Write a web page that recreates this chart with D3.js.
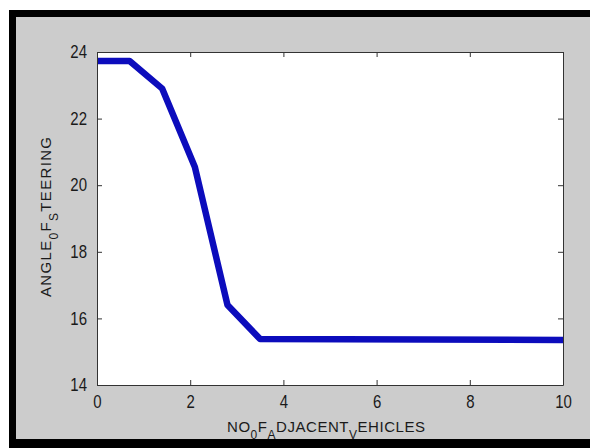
<!DOCTYPE html>
<html>
<head>
<meta charset="utf-8">
<script src="https://cdn.jsdelivr.net/npm/d3@7"></script>
<style>
    html, body { margin: 0; overflow: hidden; background: #fff; }
    svg { display: block; }
    text { font-family: "Liberation Sans", Arial, sans-serif; fill: #1a1a1a; }
    .tall { transform-box: fill-box; transform-origin: center; transform: scaleY(1.18); }
</style>
</head>
<body>
<svg id="chart" width="590" height="448"></svg>
<script>
// values
const vehicles = [0, 0.7, 1.4, 2.1, 2.8, 3.5, 10]
const steering = [23.73, 23.73, 22.9, 20.55, 16.4, 15.38, 15.35]
const xTicks = [0, 2, 4, 6, 8, 10]
const yTicks = [14, 16, 18, 20, 22, 24]

var svg = d3.select("#chart")

// figure frame: gray panel with black border left / top / bottom, open on the right
svg.append("rect").attr("x", 9).attr("y", 10).attr("width", 620).attr("height", 438).attr("fill", "#000")
svg.append("rect").attr("x", 16).attr("y", 17).attr("width", 620).attr("height", 422).attr("fill", "#cccccc")

let x = d3.scaleLinear().domain([0, 10]).range([97, 563])
let y = d3.scaleLinear().domain([14, 24]).range([385, 52])

svg.append("rect")
    .attr("x", x(0)).attr("y", y(24))
    .attr("width", x(10) - x(0)).attr("height", y(14) - y(24))
    .attr("fill", "#fff")

let line = d3.line()
    .x(function(d, i) { return x(vehicles[i]) })
    .y(function(d) { return y(d) })

svg.append("path")
    .datum(steering)
    .attr("d", line)
    .attr("fill", "none")
    .attr("stroke", "#0c0cbc")
    .attr("stroke-width", 6.5)
    .attr("stroke-linejoin", "round")

// axes: ticks pointing inward on all four sides (matlab box)
let tickStyle = function(g) {
    g.select(".domain").attr("stroke", "#333")
    g.selectAll(".tick line").attr("stroke", "#333")
}

svg.append("g")
    .attr("transform", "translate(0," + y(14) + ")")
    .call(d3.axisBottom(x).tickValues(xTicks).tickSize(-5).tickSizeOuter(0).tickPadding(11))
    .call(tickStyle)
    .call(g => g.selectAll("text").attr("class", "tall").attr("font-size", 15).attr("fill", "#1a1a1a"))

svg.append("g")
    .attr("transform", "translate(0," + y(24) + ")")
    .call(d3.axisTop(x).tickValues(xTicks).tickSize(-5).tickSizeOuter(0).tickFormat(""))
    .call(tickStyle)

svg.append("g")
    .attr("transform", "translate(" + x(0) + ",0)")
    .call(d3.axisLeft(y).tickValues(yTicks).tickSize(-5).tickSizeOuter(0).tickPadding(10))
    .call(tickStyle)
    .call(g => g.selectAll("text").attr("class", "tall").attr("font-size", 15).attr("fill", "#1a1a1a"))

svg.append("g")
    .attr("transform", "translate(" + x(10) + ",0)")
    .call(d3.axisRight(y).tickValues(yTicks).tickSize(-5).tickSizeOuter(0).tickFormat(""))
    .call(tickStyle)

// labels with tex-style subscripts
function texLabel(sel, parts) {
    parts.forEach(function(p) {
        if (p.sub) {
            sel.append("tspan").attr("font-size", 12).attr("dy", 7).text(p.t)
        } else {
            sel.append("tspan").attr("dy", p.back ? -7 : 0).text(p.t)
        }
    })
}

let xl = svg.append("text")
    .attr("x", 326).attr("y", 432)
    .attr("text-anchor", "middle")
    .attr("font-size", 15)
    .attr("textLength", 198)
    .attr("lengthAdjust", "spacing")
texLabel(xl, [
    { t: "NO" }, { t: "0", sub: true }, { t: "F", back: true },
    { t: "A", sub: true }, { t: "DJACENT", back: true },
    { t: "V", sub: true }, { t: "EHICLES", back: true }
])

let yl = svg.append("text")
    .attr("transform", "translate(51,217) rotate(-90)")
    .attr("text-anchor", "middle")
    .attr("font-size", 15)
    .attr("textLength", 160)
    .attr("lengthAdjust", "spacing")
texLabel(yl, [
    { t: "ANGLE" }, { t: "0", sub: true }, { t: "F", back: true },
    { t: "S", sub: true }, { t: "TEERING", back: true }
])
</script>
</body>
</html>
